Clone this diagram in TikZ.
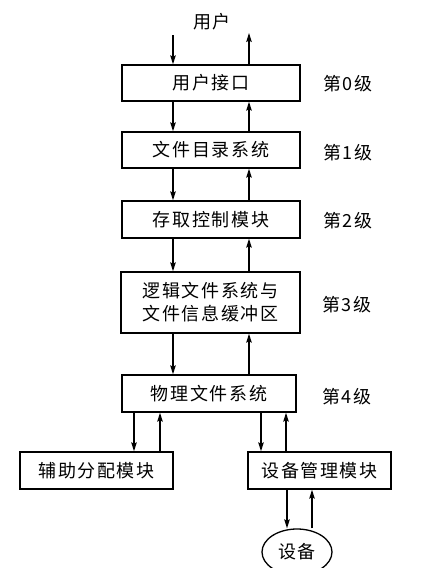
\documentclass[tikz,border=0pt]{standalone}
\usepackage{fontspec}
\setmainfont{Liberation Serif}
\newfontfamily\cjk[LetterSpace=9]{Noto Sans CJK SC}
\usetikzlibrary{arrows.meta,shapes.geometric}
\begin{document}
\begin{tikzpicture}[x=1pt,y=-1pt,
  box/.style={draw,line width=1.4pt,inner sep=0pt,align=center,
    font=\cjk\fontsize{18}{23}\selectfont},
  lvl/.style={inner sep=0pt,font=\cjk\fontsize{18}{20}\selectfont},
  arr/.style={line width=1.1pt,-{Stealth[length=9pt,width=5.5pt,inset=1.5pt]}}]
\useasboundingbox (0,0) rectangle (432,568);
\clip (0,0) rectangle (432,568);
\fill[white] (0,0) rectangle (432,568);
% column coordinates
\coordinate (xl) at (173,0);
\coordinate (xr) at (249,0);
\coordinate (al) at (134,0);
\coordinate (ar) at (160,0);
\coordinate (dl) at (261,0);
\coordinate (dr) at (286,0);
\coordinate (el) at (287,0);
\coordinate (er) at (312,0);
\coordinate (tin) at (173,35);
\coordinate (tout) at (249,33);
% nodes
\node[lvl] (user) at (212,22) {用户};
\node[box,minimum width=178pt,minimum height=36pt] (b0) at (211,83) {用户接口};
\node[box,minimum width=178pt,minimum height=36pt] (b1) at (211,150) {文件目录系统};
\node[box,minimum width=178pt,minimum height=37pt] (b2) at (211,219.5) {存取控制模块};
\node[box,minimum width=179pt,minimum height=61pt] (b3) at (210.5,302.5) {逻辑文件系统与\\文件信息缓冲区};
\node[box,minimum width=174pt,minimum height=37pt] (b4) at (209,393.5) {物理文件系统};
\node[box,minimum width=153pt,minimum height=37pt] (aux) at (96.5,470.5) {辅助分配模块};
\node[box,minimum width=143pt,minimum height=37pt] (dm) at (319.5,470.5) {设备管理模块};
\node[box,ellipse,line width=1.3pt,minimum width=70pt,minimum height=46pt] (dev) at (297,552) {设备};
% level labels
\node[lvl] (l0) at (348,84) {第0级};
\node[lvl] (l1) at (348,153) {第1级};
\node[lvl] (l2) at (348,221) {第2级};
\node[lvl] (l3) at (347,305) {第3级};
\node[lvl] (l4) at (347,397) {第4级};
% arrows
\draw[arr] (tin) -- (b0.north -| tin);
\draw[arr] (b0.north -| tout) -- (tout);
\draw[arr] (b0.south -| xl) -- (b1.north -| xl);
\draw[arr] (b1.north -| xr) -- (b0.south -| xr);
\draw[arr] (b1.south -| xl) -- (b2.north -| xl);
\draw[arr] (b2.north -| xr) -- (b1.south -| xr);
\draw[arr] (b2.south -| xl) -- (b3.north -| xl);
\draw[arr] (b3.north -| xr) -- (b2.south -| xr);
\draw[arr] (b3.south -| xl) -- (b4.north -| xl);
\draw[arr] (b4.north -| xr) -- (b3.south -| xr);
\draw[arr] (b4.south -| al) -- (aux.north -| al);
\draw[arr] (aux.north -| ar) -- (b4.south -| ar);
\draw[arr] (b4.south -| dl) -- (dm.north -| dl);
\draw[arr] (dm.north -| dr) -- (b4.south -| dr);
\draw[arr] (dm.south -| el) -- (dev.north -| el);
\draw[arr] (dev.north -| er) -- (dm.south -| er);
\end{tikzpicture}
\end{document}
